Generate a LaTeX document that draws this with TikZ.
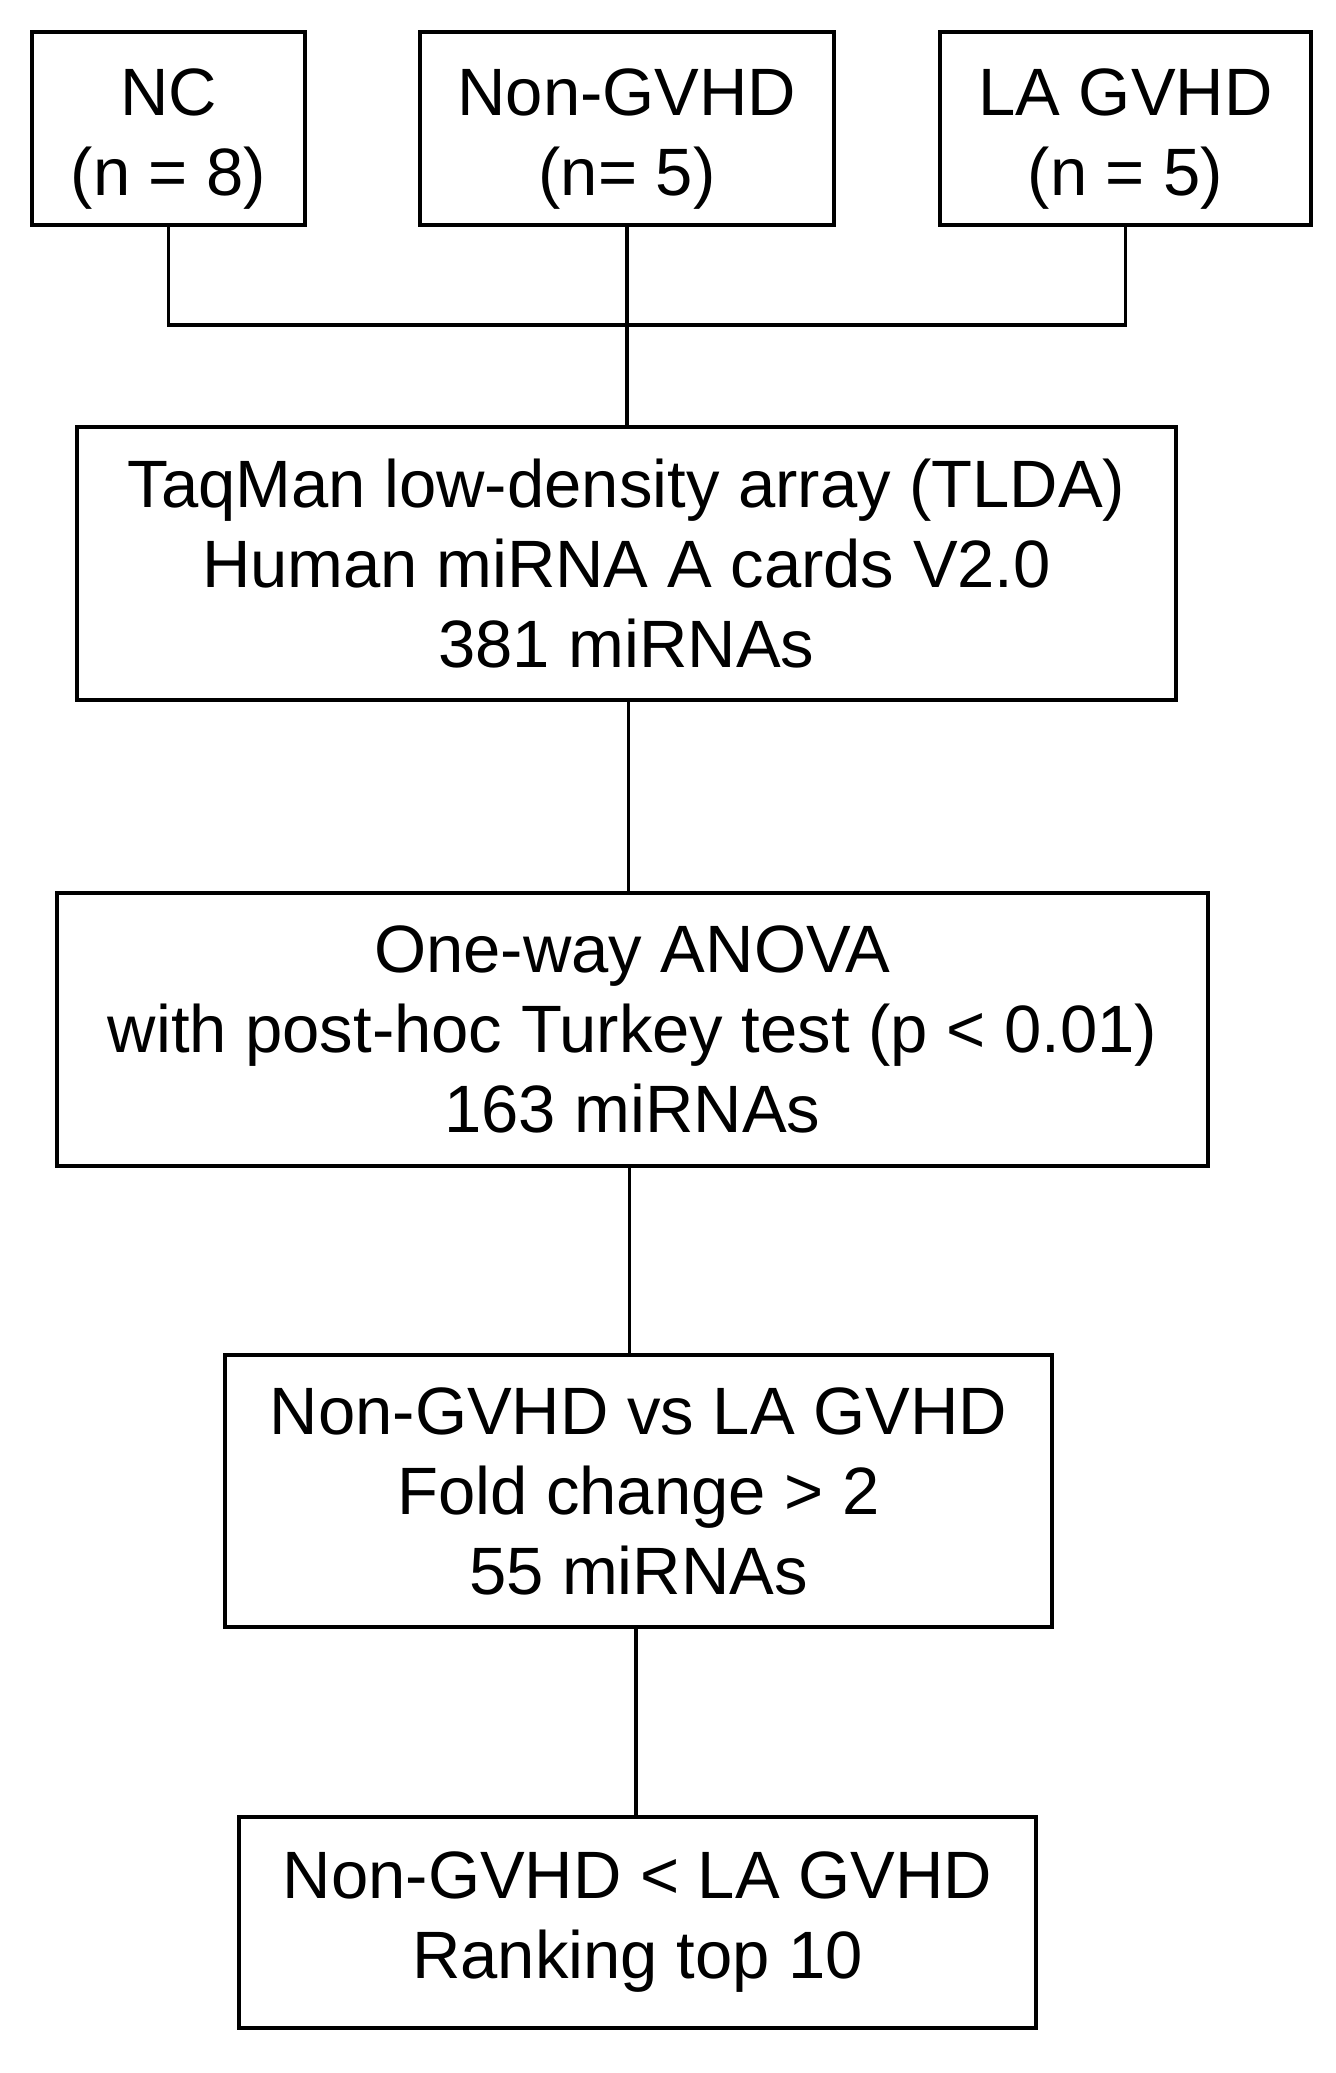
\documentclass[tikz,border=0pt]{standalone}
\usepackage{fontspec}
\setmainfont{Liberation Sans}
\usepackage{tikz}

\begin{document}
\begin{tikzpicture}[x=1pt,y=-1pt,
   box/.style={draw,line width=3.5pt,align=center,inner sep=0pt,
      font=\fontsize{67}{80}\selectfont},
   group/.style={box,minimum height=193pt,text height=148pt},
   link/.style={line width=3.5pt}]
\useasboundingbox (0,0) rectangle (1336,2073);
% groups
\node[group,minimum width=273pt] (nc) at (168.5,128.5) {NC\\(n = 8)};
\node[group,minimum width=414pt] (nongvhd) at (627,128.5) {Non-GVHD\\(n= 5)};
\node[group,minimum width=371pt] (lagvhd) at (1125.5,128.5) {LA GVHD\\(n = 5)};
% steps
\node[box,minimum width=1099pt,minimum height=273pt] (tlda) at (626.5,563.5)
   {TaqMan low-density array (TLDA)\\Human miRNA A cards V2.0\\381 miRNAs};
\node[box,minimum width=1151pt,minimum height=273pt] (anova) at (632.5,1029.5)
   {One-way ANOVA\\with post-hoc Turkey test (p < 0.01)\\163 miRNAs};
\node[box,minimum width=827pt,minimum height=272pt] (fold) at (638.5,1491)
   {Non-GVHD vs LA GVHD\\Fold change > 2\\55 miRNAs};
\node[box,minimum width=797pt,minimum height=211pt] (top10) at (637.5,1922.5)
   {Non-GVHD < LA GVHD\\Ranking top 10};
\coordinate (join) at (627,325);
\draw[link] (nc.south) |- (join) -| (lagvhd.south);
\draw[link] (nongvhd.south) -- (nongvhd.south |- tlda.north);
\draw[link] (tlda.south) ++(2,0) coordinate (t1) -- (t1 |- anova.north);
\draw[link] (anova.south) ++(-3,0) coordinate (a1) -- (a1 |- fold.north);
\draw[link] (fold.south) ++(-2.5,0) coordinate (f1) -- (f1 |- top10.north);
\end{tikzpicture}
\end{document}
